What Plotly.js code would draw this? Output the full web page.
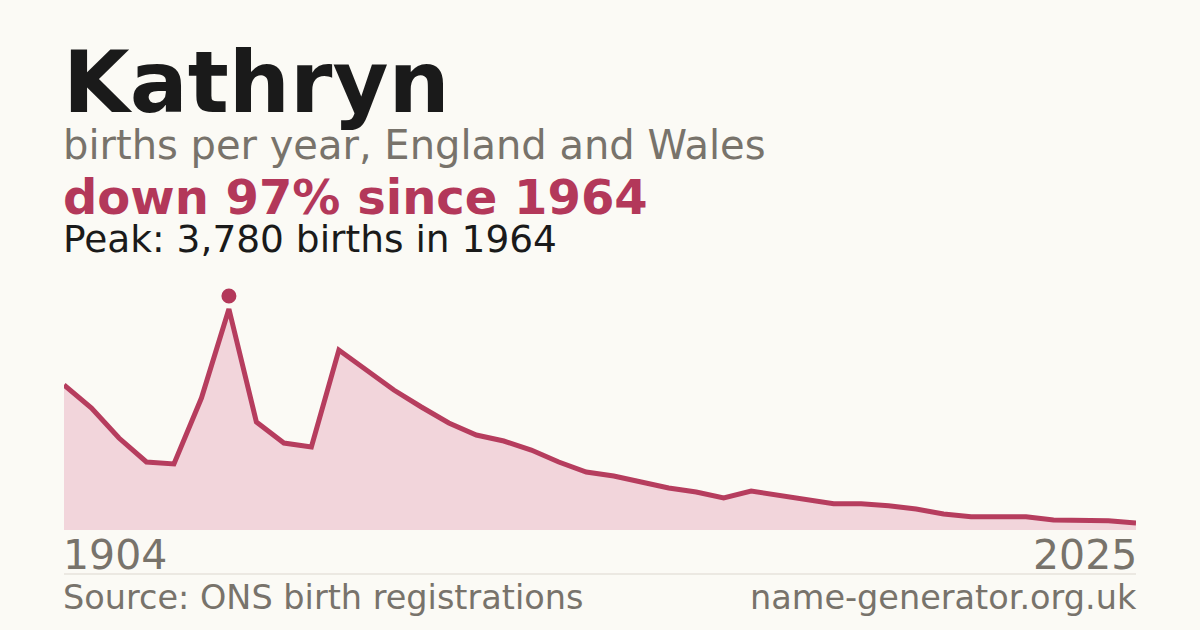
<!DOCTYPE html>
<html>
<head>
<meta charset="utf-8">
<script src="https://cdn.plot.ly/plotly-3.0.1.min.js"></script>
<style>
  html, body { margin: 0; padding: 0; background: #fbfaf5; }
  #graph { width: 1200px; height: 630px; }
</style>
</head>
<body>
<div id="graph"></div>
<script>
// decade points up to 1994, then every year
const years = [
    "1904", "1914", "1924", "1934", "1944", "1954", "1964", "1974", "1984", "1994",
    "1996", "1997", "1998", "1999", "2000", "2001", "2002", "2003", "2004", "2005",
    "2006", "2007", "2008", "2009", "2010", "2011", "2012", "2013", "2014", "2015",
    "2016", "2017", "2018", "2019", "2020", "2021", "2022", "2023", "2024", "2025"
]
const births = [
    2480, 2086, 1573, 1163, 1129, 2257, 3780, 1847, 1488, 1419,
    3078, 2736, 2394, 2104, 1830, 1625, 1522, 1368, 1163, 992,
    923, 821, 718, 650, 547, 667, 599, 530, 450, 450,
    416, 359, 274, 227, 227, 227, 171, 171, 159, 120
]

const nameText = "Kathryn"
const subtitleText = "births per year, England and Wales"
const changeText = "down 97% since 1964"
const peakText = "Peak: 3,780 births in 1964"
const sourceText = "Source: ONS birth registrations"
const siteText = "name-generator.org.uk"

const red = "#b3385a"
const grey = "#78736b"
const ink = "#1a1a1a"
const font = "DejaVu Sans, sans-serif"

const plotTop = 280
const plotBottom = 530
// pixel row -> paper y
const py = p => (plotBottom - p) / (plotBottom - plotTop)
// annotation placed by its text baseline
function label(text, x, xanchor, baseline, size, color, bold) {
    return {
        text: bold ? "<b>" + text + "</b>" : text,
        xref: "paper", yref: "paper",
        x: x, xanchor: xanchor,
        xshift: xanchor == "left" ? -3 : 3,
        y: py(baseline + 0.236 * size + 1), yanchor: "bottom",
        showarrow: false,
        font: { family: font, size: size, color: color }
    }
}

const peakIdx = births.indexOf(Math.max(...births))
const yMax = births[peakIdx] * (plotBottom - plotTop) / (plotBottom - 309)

const traceArea = {
    x: years,
    y: births,
    type: "scatter",
    mode: "lines",
    fill: "tozeroy",
    fillcolor: "#f2d5db",
    line: { color: "#b63d5e", width: 5 },
    hoverinfo: "skip"
}

const layout = {
    width: 1200,
    height: 630,
    paper_bgcolor: "#fbfaf5",
    plot_bgcolor: "#fbfaf5",
    margin: { l: 64, r: 64, t: plotTop, b: 630 - plotBottom },
    showlegend: false,
    xaxis: {
        type: "category",
        range: [0, years.length - 1],
        showticklabels: false, showgrid: false, zeroline: false, showline: false, ticks: ""
    },
    yaxis: {
        range: [0, yMax],
        showticklabels: false, showgrid: false, zeroline: false, showline: false, ticks: ""
    },
    shapes: [
        {   // peak dot, sits just above the line
            type: "circle", xref: "x", yref: "y",
            xsizemode: "pixel", ysizemode: "pixel",
            xanchor: peakIdx, yanchor: births[peakIdx],
            x0: -7.5, x1: 7.5, y0: 5.5, y1: 20.5,
            fillcolor: red, line: { width: 0 }
        },
        {   // footer rule
            type: "line", xref: "paper", yref: "paper",
            x0: 0, x1: 1, y0: py(574), y1: py(574),
            line: { color: "#dcd7cf", width: 1 }
        }
    ],
    annotations: [
        label(nameText, 0, "left", 113, 86, ink, true),
        label(subtitleText, 0, "left", 160, 40, grey, false),
        label(changeText, 0, "left", 215, 48, red, true),
        label(peakText, 0, "left", 253, 37.5, ink, false),
        label(years[0], 0, "left", 570, 41, grey, false),
        label(years[years.length - 1], 1, "right", 570, 41, grey, false),
        label(sourceText, 0, "left", 610, 33.5, grey, false),
        label(siteText, 1, "right", 610, 33.5, grey, false)
    ]
}

Plotly.newPlot("graph", [traceArea], layout, { displayModeBar: false, staticPlot: true })
</script>
</body>
</html>
